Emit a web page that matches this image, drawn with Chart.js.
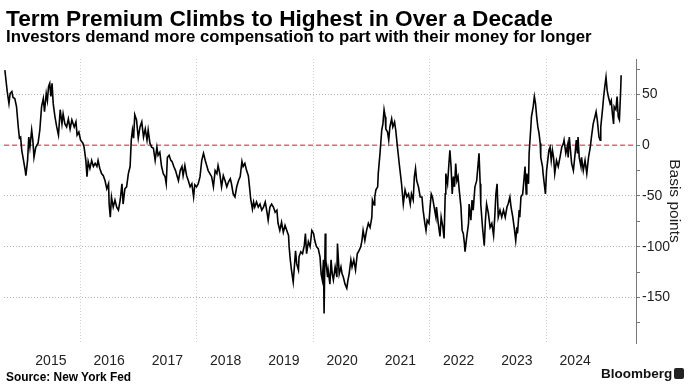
<!DOCTYPE html>
<html>
<head>
<meta charset="utf-8">
<script src="https://cdn.jsdelivr.net/npm/chart.js@4.4.0/dist/chart.umd.min.js"></script>
<style>
body{margin:0;background:#fff;width:689px;height:388px;overflow:hidden;position:relative;font-family:"Liberation Sans",Arial,sans-serif}
#grafica{position:absolute;left:0;top:0}
.texto{position:absolute;white-space:nowrap;color:#000;font-weight:bold}
#titulo{left:6px;top:5px;font-size:22.7px;line-height:26px}
#subtitulo{left:6px;top:27px;font-size:16.8px;line-height:20px}
#fuente{left:6px;top:370px;font-size:11.9px;line-height:14px}
#marca{left:601px;top:366px;font-size:13.5px;line-height:16px;color:#111}
#logo{position:absolute;left:674px;top:368px;width:10px;height:11px;background:#222;border-radius:2px}
</style>
</head>
<body>
<canvas id="grafica" width="689" height="388"></canvas>
<div class="texto" id="titulo">Term Premium Climbs to Highest in Over a Decade</div>
<div class="texto" id="subtitulo">Investors demand more compensation to part with their money for longer</div>
<div class="texto" id="fuente">Source: New York Fed</div>
<div class="texto" id="marca">Bloomberg</div>
<div id="logo"></div>
<script>
// fechas en anios decimales, prima de plazo en puntos basicos
var fechas = [
 2014.71,2014.75,2014.78,2014.80,2014.83,2014.85,2014.88,2014.91,2014.94,2014.96,2014.98,2015.00,2015.03,2015.06,2015.07,2015.10,2015.12,2015.14,2015.17,2015.19,
 2015.21,2015.24,2015.28,2015.31,2015.34,2015.37,2015.39,2015.42,2015.44,2015.46,2015.48,2015.50,2015.52,2015.54,2015.57,2015.60,2015.63,2015.66,2015.69,2015.71,
 2015.74,2015.77,2015.80,2015.83,2015.86,2015.90,2015.93,2015.95,2015.98,2016.01,2016.05,2016.07,2016.10,2016.12,2016.14,2016.17,2016.20,2016.23,2016.26,2016.29,
 2016.31,2016.34,2016.37,2016.40,2016.43,2016.46,2016.49,2016.50,2016.52,
 2016.54,2016.57,2016.60,2016.63,2016.66,2016.69,2016.72,2016.74,2016.77,2016.80,2016.83,2016.86,2016.88,2016.90,2016.92,2016.94,2016.97,2017.00,2017.03,2017.06,
 2017.09,2017.12,2017.15,2017.17,2017.20,2017.23,2017.26,2017.29,2017.32,2017.34,2017.37,2017.40,2017.43,2017.46,2017.48,2017.50,2017.53,2017.56,2017.58,2017.61,
 2017.64,2017.67,2017.69,2017.72,2017.75,2017.77,2017.80,2017.83,2017.86,2017.89,2017.92,2017.95,2017.97,2018.00,2018.03,2018.06,2018.09,2018.12,2018.15,2018.18,
 2018.20,
 2018.26,2018.29,2018.32,2018.35,2018.37,2018.40,2018.43,2018.46,2018.49,2018.52,2018.55,2018.58,2018.60,2018.63,2018.66,2018.69,2018.72,2018.75,2018.78,2018.80,
 2018.83,2018.86,2018.89,2018.91,2018.93,2018.96,2018.98,2019.00,2019.03,2019.06,2019.09,2019.12,2019.15,2019.18,2019.21,2019.23,2019.26,2019.29,2019.32,2019.35,
 2019.38,2019.40,2019.43,2019.46,2019.49,2019.52,2019.55,2019.58,2019.59,2019.61,2019.63,2019.66,2019.68,2019.70,2019.72,2019.75,2019.76,2019.79,2019.82,2019.85,
 2019.87,2019.89,2019.92,2019.95,2019.98,2020.01,2020.03,2020.06,
 2020.09,2020.12,2020.14,2020.16,2020.18,2020.19,2020.21,2020.22,2020.25,2020.26,2020.29,2020.31,2020.33,2020.35,2020.38,2020.41,2020.42,2020.45,2020.48,2020.50,
 2020.52,2020.55,2020.58,2020.60,2020.62,2020.65,2020.67,2020.70,2020.73,2020.76,2020.79,2020.82,2020.84,2020.86,2020.89,2020.92,2020.95,2020.98,2021.01,2021.02,
 2021.05,2021.06,2021.08,2021.11,2021.12,2021.15,2021.18,2021.20,2021.22,2021.24,2021.25,2021.28,2021.30,2021.32,2021.35,2021.37,2021.40,2021.42,2021.45,2021.48,
 2021.50,2021.52,2021.55,2021.58,2021.61,2021.64,2021.67,2021.69,2021.72,2021.74,2021.76,2021.78,2021.81,2021.84,
 2021.87,2021.89,2021.92,2021.94,2021.96,2021.99,2022.01,2022.03,2022.05,2022.08,2022.11,2022.12,2022.15,2022.18,2022.20,2022.23,2022.25,2022.27,2022.28,2022.31,
 2022.33,2022.35,2022.37,2022.39,2022.41,2022.43,2022.45,2022.47,2022.49,2022.51,2022.54,2022.56,2022.58,2022.60,2022.61,2022.64,2022.67,2022.68,2022.71,2022.73,
 2022.75,2022.78,2022.81,2022.84,2022.85,2022.87,2022.88,2022.91,2022.92,2022.94,2022.96,2022.98,2023.01,2023.04,2023.07,2023.10,2023.12,2023.14,2023.16,2023.18,
 2023.21,2023.24,2023.27,2023.30,2023.33,2023.35,2023.38,2023.40,2023.43,2023.46,2023.48,2023.50,2023.51,2023.54,2023.55,2023.57,2023.60,2023.62,2023.64,
 2023.66,2023.67,2023.70,2023.71,2023.74,2023.75,2023.78,2023.80,2023.82,2023.84,2023.86,2023.88,2023.90,2023.91,2023.94,2023.95,2023.97,2023.99,2024.01,2024.03,
 2024.05,2024.07,2024.09,2024.11,2024.13,2024.15,2024.18,2024.21,2024.24,2024.27,2024.30,2024.31,2024.34,2024.37,2024.38,2024.40,2024.42,2024.44,2024.47,2024.50,
 2024.52,2024.54,2024.55,2024.57,2024.60,2024.61,2024.64,2024.67,2024.70,2024.73,2024.76,2024.78,2024.81,2024.84,2024.86,2024.88,2024.91,2024.93,2024.94,2024.97,
 2024.99,2025.01,2025.03,2025.05,2025.07,2025.10,2025.12,2025.14,2025.16,2025.17,2025.20,2025.22,2025.24,2025.26,2025.28,2025.29
]
var prima_plazo = [
 74,53,41,51,53,47,46,38,18,7,8,-5,-15,-25,-30,-15,8,-2,15,5,
 -12,-2,2,15,38,46,33,51,44,58,61,48,61,41,28,18,10,35,21,31,
 21,18,26,16,25,18,23,10,13,5,2,-2,-15,-31,-16,-23,-15,-21,-18,-21,
 -15,-23,-28,-30,-35,-43,-38,-58,-71,
 -51,-61,-54,-61,-64,-54,-38,-58,-43,-41,-28,-21,5,15,7,30,25,7,18,23,
 8,16,5,15,2,-2,-3,-15,-2,-10,-7,-21,-28,-31,-38,-12,-10,-15,-16,-21,
 -25,-31,-35,-25,-21,-30,-20,-30,-35,-41,-38,-51,-39,-41,-38,-31,-15,-8,-15,-21,
 -25,
 -31,-41,-25,-28,-20,-28,-41,-30,-35,-41,-36,-33,-38,-48,-51,-41,-35,-31,-16,-21,
 -18,-25,-30,-41,-53,-63,-56,-61,-56,-61,-58,-64,-61,-56,-66,-74,-61,-58,-61,-66,
 -64,-77,-84,-76,-86,-79,-84,-89,-100,-113,-123,-135,-120,-104,-117,-123,-110,-105,-107,-99,
 -87,-107,-95,-100,-84,-87,-94,-100,
 -102,-110,-127,-133,-113,-166,-87,-113,-130,-123,-137,-113,-127,-133,-120,-130,-97,-127,-120,-127,
 -130,-137,-141,-133,-127,-113,-120,-113,-123,-107,-104,-100,-94,-84,-94,-84,-77,-81,-71,-54,
 -59,-51,-44,-41,-28,-8,15,21,35,28,16,13,5,18,26,18,23,15,-2,-18,
 -28,-38,-58,-44,-51,-48,-58,-48,-54,-31,-23,-35,-41,-51,
 -51,-64,-77,-84,-74,-77,-61,-48,-51,-61,-71,-61,-77,-90,-71,-81,-92,-48,-28,-38,
 -21,-5,-21,-48,-31,-41,-18,-35,-31,-44,-61,-84,-87,-97,-105,-90,-77,-58,-74,-54,
 -64,-41,-35,-15,-8,-38,-58,-81,-87,-99,-74,-58,-67,-81,-77,-89,-71,-48,-38,-71,
 -64,-71,-64,-71,-61,-58,-51,-61,-71,-84,-94,-81,-87,-64,-71,-51,-48,-35,-21,
 -48,-28,-38,-8,18,28,38,48,41,28,18,12,2,-12,-21,-28,-38,-48,-25,-15,
 -5,-2,-15,-5,-12,-28,-15,-21,-12,-2,2,5,-8,0,-12,8,-5,-18,-25,-8,
 5,-8,8,-12,-21,-12,-25,-15,-28,-12,-2,8,21,28,33,25,8,5,18,35,
 48,58,67,54,48,41,44,31,21,38,35,48,28,25,51,69
]
var anios_etiqueta = [2015,2016,2017,2018,2019,2020,2021,2022,2023,2024]
var anios_rejilla = [2016,2018,2020,2022,2024]
var marcas_y = [-175,-150,-125,-100,-75,-50,-25,0,25,50,75]
var etiquetas_y = [-150,-100,-50,0,50]
var x_min = 2014.695, x_max = 2025.545
var y_min = -195, y_max = 85

var fuente_ejes = "'Liberation Sans Narrow','Liberation Sans',Arial,sans-serif"

var puntos = fechas.map(function(f, i){ return {x: f, y: prima_plazo[i]} })
var marcas_x = anios_rejilla.concat(anios_etiqueta.map(function(a){ return a + 0.5 }))
marcas_x.sort(function(a, b){ return a - b })

var grafica = new Chart(document.getElementById("grafica"), {
    type: 'line',
    data: {
        datasets: [{
            label: "Term premium",
            data: puntos,
            borderColor: '#000',
            borderWidth: 1.6,
            pointRadius: 0,
            tension: 0,
            order: 1
        },
        {
            label: "cero",
            data: [{x: x_min, y: 0}, {x: x_max, y: 0}],
            borderColor: '#e0687f',
            borderWidth: 1.6,
            borderDash: [5, 3],
            pointRadius: 0,
            order: 2
        }]
    },
    options: {
        responsive: false,
        animation: false,
        layout: {padding: {left: 4, top: 59, right: 0, bottom: 0}},
        plugins: {legend: {display: false}, tooltip: {enabled: false}},
        scales: {
            x: {
                type: 'linear', min: x_min, max: x_max,
                afterBuildTicks: function(eje){ eje.ticks = marcas_x.map(function(v){ return {value: v} }) },
                afterFit: function(eje){ eje.height = 45 },
                grid: {
                    color: function(ctx){ return ctx.tick && anios_rejilla.indexOf(ctx.tick.value) >= 0 ? '#cfcfcf' : 'rgba(0,0,0,0)' },
                    drawTicks: false, lineWidth: 1
                },
                border: {display: false, dash: [1, 2]},
                ticks: {
                    autoSkip: false, maxRotation: 0, padding: 10, color: '#222',
                    font: {family: fuente_ejes, size: 14},
                    callback: function(v){ return anios_etiqueta.indexOf(v - 0.5) >= 0 ? String(v - 0.5) : '' }
                }
            },
            y: {
                position: 'right', min: y_min, max: y_max,
                afterBuildTicks: function(eje){ eje.ticks = marcas_y.map(function(v){ return {value: v} }) },
                afterFit: function(eje){ eje.width = 53 },
                grid: {
                    color: function(ctx){ return ctx.tick && ctx.tick.value !== 0 && etiquetas_y.indexOf(ctx.tick.value) >= 0 ? '#b5b5b5' : 'rgba(0,0,0,0)' },
                    tickColor: '#777', tickLength: 4, lineWidth: 1
                },
                border: {display: true, color: '#777', width: 1, dash: [1, 2]},
                ticks: {
                    autoSkip: false, padding: 2, color: '#222',
                    font: {family: fuente_ejes, size: 14},
                    callback: function(v){ return etiquetas_y.indexOf(v) >= 0 ? String(v) : '' }
                },
                title: {
                    display: true, text: 'Basis points', color: '#222',
                    font: {family: "'Liberation Sans',Arial,sans-serif", size: 15.5},
                    padding: {top: 5, bottom: 0}
                }
            }
        }
    }
})
</script>
</body>
</html>
